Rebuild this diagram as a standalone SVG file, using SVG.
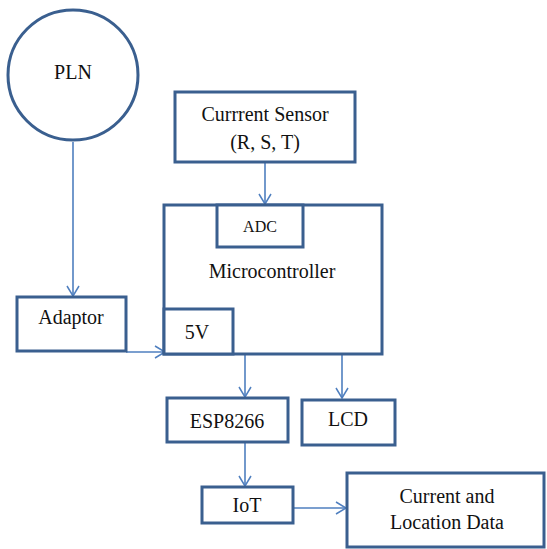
<svg xmlns="http://www.w3.org/2000/svg" width="547" height="549" viewBox="0 0 547 549">
<defs>
<marker id="arr" markerWidth="14" markerHeight="14" refX="11" refY="7" orient="auto" markerUnits="userSpaceOnUse">
<path d="M1,1 L11,7 L1,13" fill="none" stroke="#4f7fbf" stroke-width="1.5"/>
</marker>
<style>
.box{fill:#fff;stroke:#3a5f8f;stroke-width:3}
.t{font-size:20px;fill:#111;text-anchor:middle}
.c{fill:none;stroke:#4f7fbf;stroke-width:1.6}
</style>
</defs>
<rect width="547" height="549" fill="#fff"/>
<g id="connectors">
<path class="c" d="M73,142 V296" marker-end="url(#arr)"/>
<path class="c" d="M126,352 H165" marker-end="url(#arr)"/>
<path class="c" d="M265,162 V204" marker-end="url(#arr)"/>
<path class="c" d="M245,355 V397" marker-end="url(#arr)"/>
<path class="c" d="M342,355 V398" marker-end="url(#arr)"/>
<path class="c" d="M245,443 V486" marker-end="url(#arr)"/>
<path class="c" d="M293,508 H346" marker-end="url(#arr)"/>
</g>
<g font-family="'Liberation Serif', 'Times New Roman', serif">
<g id="pln">
<circle cx="73" cy="75" r="65" class="box"/>
<text class="t" x="73" y="79">PLN</text>
</g>
<g id="sensor">
<rect class="box" x="175" y="92" width="180" height="70"/>
<text class="t" x="265" y="121">Currrent Sensor</text>
<text class="t" x="265" y="149">(R, S, T)</text>
</g>
<g id="microcontroller">
<rect class="box" x="164" y="205" width="218" height="149"/>
<text class="t" x="272" y="278">Microcontroller</text>
</g>
<g id="adc">
<rect class="box" x="217" y="205" width="86" height="42"/>
<text class="t" x="260" y="232" style="font-size:16px">ADC</text>
</g>
<g id="v5">
<rect class="box" x="164" y="309" width="69" height="45"/>
<text class="t" x="197" y="339">5V</text>
</g>
<g id="adaptor">
<rect class="box" x="17" y="297" width="109" height="54"/>
<text class="t" x="71" y="324">Adaptor</text>
</g>
<g id="esp">
<rect class="box" x="167" y="398" width="121" height="44"/>
<text class="t" x="227" y="428">ESP8266</text>
</g>
<g id="lcd">
<rect class="box" x="302" y="400" width="93" height="45"/>
<text class="t" x="348" y="426">LCD</text>
</g>
<g id="iot">
<rect class="box" x="202" y="487" width="91" height="36"/>
<text class="t" x="247" y="512">IoT</text>
</g>
<g id="data">
<rect class="box" x="347" y="473" width="197" height="74"/>
<text class="t" x="447" y="503">Current and</text>
<text class="t" x="447" y="529">Location Data</text>
</g>
</g>
</svg>
